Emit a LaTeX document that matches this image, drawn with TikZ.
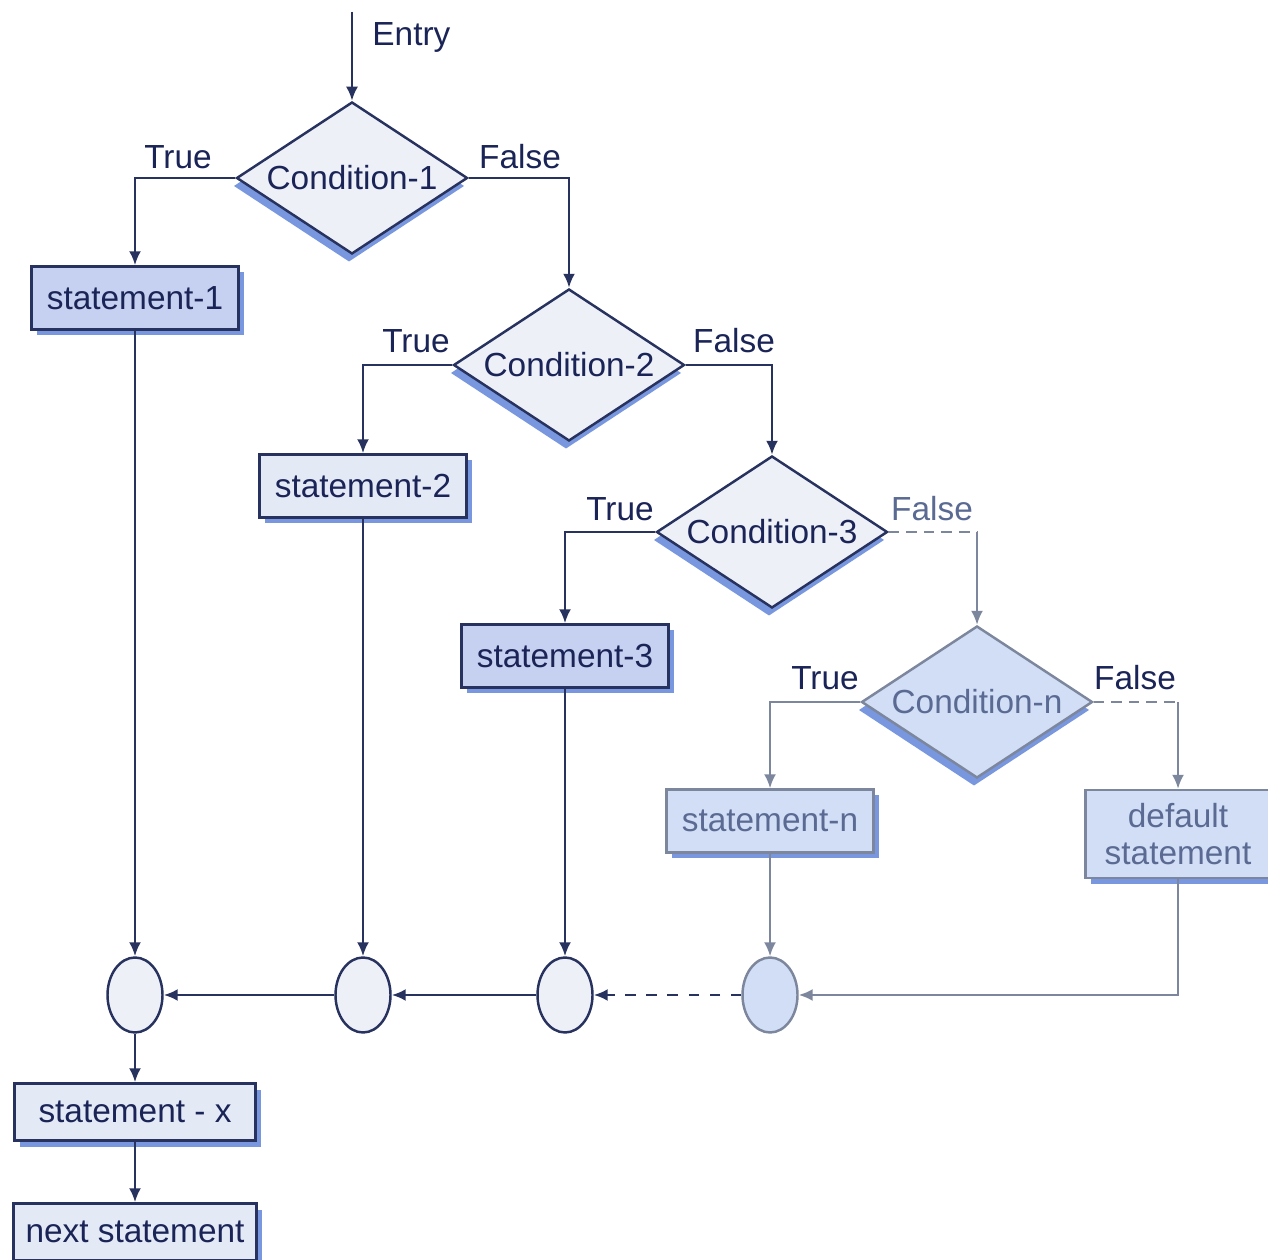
\documentclass[tikz,border=0pt]{standalone}
\usepackage{fontspec}
\setmainfont{Liberation Sans}
\usepackage{xcolor}
\usepackage{tikz}
\usetikzlibrary{shapes,arrows,positioning,calc,shadows,arrows.meta}

\definecolor{ink}{HTML}{27325E}
\definecolor{inktext}{HTML}{1A2456}
\definecolor{boxblue}{HTML}{C6D0F0}
\definecolor{boxpale}{HTML}{E4E9F6}
\definecolor{diapale}{HTML}{EEF0F8}
\definecolor{shadeblue}{HTML}{3F6BD0}
\definecolor{fadeink}{HTML}{7C869C}
\definecolor{fadetext}{HTML}{5A6A92}
\definecolor{fadefill}{HTML}{D2DEF6}

\begin{document}
\begin{tikzpicture}[
    font=\fontsize{9.5}{11.5}\selectfont, text=inktext,
    >={Latex[length=1.4mm,width=1.2mm]},
    line/.style={draw=ink, line width=0.7pt},
    stmt/.style={rectangle, draw=ink, line width=0.7pt, fill=boxblue,
        minimum width=2.07cm, minimum height=0.63cm, inner sep=1pt,
        drop shadow={shadow xshift=0.5mm, shadow yshift=-0.6mm, fill=shadeblue, opacity=0.7}},
    cond/.style={diamond, draw=ink, line width=0.7pt, fill=diapale, aspect=1.52,
        minimum width=2.31cm, minimum height=1.52cm, inner sep=0pt,
        drop shadow={shadow xshift=-0.3mm, shadow yshift=-0.8mm, fill=shadeblue, opacity=0.7}},
    merge/.style={ellipse, draw=ink, line width=0.7pt, fill=diapale,
        minimum width=0.55cm, minimum height=0.75cm, inner sep=0pt},
    faded/.style={draw=fadeink, text=fadetext, fill=fadefill},
    fadedline/.style={draw=fadeink, line width=0.6pt}
]
    \useasboundingbox (0,0) rectangle (12.68,12.59);
    \fill[white] (0,0) rectangle (12.68,12.59);

    % Entry
    \coordinate (entry) at (3.52,12.47);
    \node[anchor=west] (entrytxt) at (3.60,12.22) {Entry};

    % Conditions
    \node[cond] (c1) at (3.52,10.81) {Condition-1};
    \node[cond] (c2) at (5.69,8.94) {Condition-2};
    \node[cond] (c3) at (7.72,7.27) {Condition-3};
    \node[cond, faded] (cn) at (9.77,5.57) {Condition-n};

    % Statements
    \node[stmt] (s1) at (1.35,9.61) {statement-1};
    \node[stmt, fill=boxpale] (s2) at (3.63,7.73) {statement-2};
    \node[stmt] (s3) at (5.65,6.03) {statement-3};
    \node[stmt, faded] (sn) at (7.70,4.38) {statement-n};
    \node[stmt, faded, minimum width=1.85cm, minimum height=0.88cm, align=center,
        inner sep=0pt] (sd) at (11.78,4.25) {default\\[-1pt]statement};

    % Labels
    \node (t1) at (1.78,11.02) {True};
    \node (f1) at (5.20,11.02) {False};
    \node (t2) at (4.16,9.18) {True};
    \node (f2) at (7.34,9.18) {False};
    \node (t3) at (6.20,7.50) {True};
    \node[text=fadetext] (f3) at (9.32,7.50) {False};
    \node (tn) at (8.25,5.81) {True};
    \node (fn) at (11.35,5.81) {False};

    % Merge points
    \node[merge] (j1) at (1.35,2.64) {};
    \node[merge] (j2) at (3.63,2.64) {};
    \node[merge] (j3) at (5.65,2.64) {};
    \node[merge, faded] (jn) at (7.70,2.64) {};

    % Exit
    \node[stmt, fill=boxpale, minimum width=2.41cm, minimum height=0.57cm] (sx) at (1.35,1.47) {statement - x};
    \node[stmt, fill=boxpale, minimum width=2.43cm, minimum height=0.57cm] (nx) at (1.35,0.27) {next statement};

    % Flow lines
    \draw[line,->] (entry) -- (c1.north);
    \draw[line,->] (c1.west) -| (s1.north);
    \draw[line,->] (c1.east) -| (c2.north);
    \draw[line,->] (c2.west) -| (s2.north);
    \draw[line,->] (c2.east) -| (c3.north);
    \draw[line,->] (c3.west) -| (s3.north);
    \coordinate (k3) at (c3.east -| cn.north);
    \draw[fadedline, densely dashed] (c3.east) -- (k3);
    \draw[fadedline,->] (k3) -- (cn.north);
    \draw[fadedline,->] (cn.west) -| (sn.north);
    \coordinate (kn) at (cn.east -| sd.north);
    \draw[fadedline, densely dashed] (cn.east) -- (kn);
    \draw[fadedline,->] (kn) -- (sd.north);

    % Down to the merge points
    \draw[line,->] (s1.south) -- (j1.north);
    \draw[line,->] (s2.south) -- (j2.north);
    \draw[line,->] (s3.south) -- (j3.north);
    \draw[fadedline,->] (sn.south) -- (jn.north);
    \draw[fadedline,->] (sd.south) |- (jn.east);
    \draw[line,->,dashed] (jn.west) -- (j3.east);
    \draw[line,->] (j3.west) -- (j2.east);
    \draw[line,->] (j2.west) -- (j1.east);
    \draw[line,->] (j1.south) -- (sx.north);
    \draw[line,->] (sx.south) -- (nx.north);
\end{tikzpicture}
\end{document}
